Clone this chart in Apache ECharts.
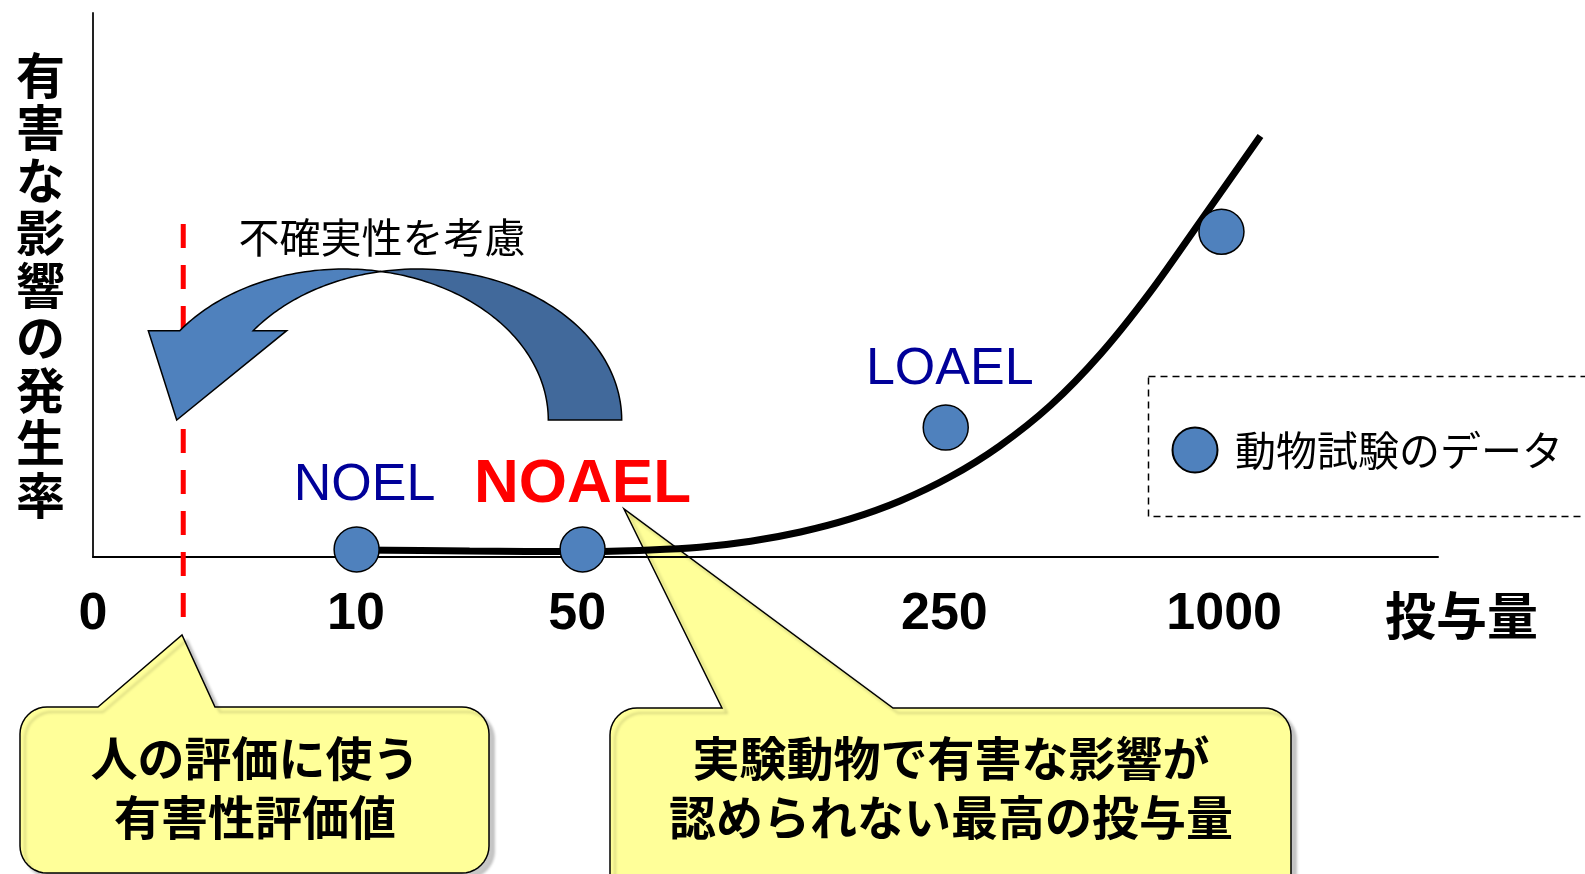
<!DOCTYPE html>
<html>
<head>
<meta charset="utf-8">
<script src="https://cdn.jsdelivr.net/npm/echarts@6/dist/echarts.min.js"></script>
<style>
  html, body { margin: 0; padding: 0; background: #ffffff; }
  #main { width: 1585px; height: 874px; }
</style>
</head>
<body>
<div id="main"></div>
<script>
// Schematic dose axis: tick text and where each tick sits along the axis
const doseTickLabels = ['0', '10', '50', '250', '1000'];
const doseTickPos = [0, 1.955, 3.60, 6.33, 8.41];

// Animal study results: position on the dose axis and incidence of adverse effects
const studyDosePos = [1.96, 3.64, 6.34, 8.39];
const studyEffect = [0.14, 0.14, 2.38, 5.98];
const studyTags = ['NOEL', 'NOAEL', 'LOAEL', ''];

// Dose-response curve
const curveX = [1.96, 2.80, 3.64, 4.14, 4.51, 4.89, 5.26, 5.63, 6.00, 6.37, 6.74, 7.12, 7.49, 7.86, 8.23, 8.68];
const curveY = [0.13, 0.11, 0.10, 0.13, 0.18, 0.29, 0.46, 0.70, 1.03, 1.47, 2.04, 2.79, 3.73, 4.87, 6.16, 7.74];

// Human reference value on the dose axis, and the vertical extent of its marker
const refDosePos = 0.671;
const refLineY = [6.12, -1.25];

const CJK = '"Noto Sans CJK JP", "Noto Sans CJK SC", sans-serif';
const LATIN = '"Liberation Sans", Arial, sans-serif';

const tagStyle = {
  NOEL:  { color: '#000099', fontSize: 52, fontWeight: 'normal', offset: [8, -64] },
  NOAEL: { color: '#FF0000', fontSize: 62, fontWeight: 'bold',   offset: [0, -64] },
  LOAEL: { color: '#000099', fontSize: 52, fontWeight: 'normal', offset: [4, -58] }
};

function tagLabel(tag) {
  if (!tag) return { show: false };
  const s = tagStyle[tag];
  return {
    show: true, position: 'inside', formatter: tag,
    color: s.color, fontSize: s.fontSize, fontWeight: s.fontWeight,
    fontFamily: LATIN, offset: s.offset
  };
}

// Curved "uncertainty" arrow: a band between two equal ellipses shifted sideways
function ellipsePts(cx, cy, rx, ry, t0, t1, n) {
  const pts = [];
  for (let i = 0; i <= n; i++) {
    const t = t0 + (t1 - t0) * i / n;
    pts.push([cx + rx * Math.cos(t), cy - ry * Math.sin(t)]);
  }
  return pts;
}
const arw = { cy: 420, rx: 204, ry: 151, cxA: 344.3, cxB: 417.7, baseY: 330.7, headL: 148.3, headR: 286.7, tip: [176.7, 420] };
const tBase = Math.PI - Math.asin((arw.cy - arw.baseY) / arw.ry);
const tCA = Math.acos(((arw.cxA + arw.cxB) / 2 - arw.cxA) / arw.rx);
const tCB = Math.PI - tCA;
const arrowFront = [[arw.headL, arw.baseY]]
  .concat(ellipsePts(arw.cxA, arw.cy, arw.rx, arw.ry, tBase, tCA, 48))
  .concat(ellipsePts(arw.cxB, arw.cy, arw.rx, arw.ry, tCB, tBase, 48))
  .concat([[arw.headR, arw.baseY], arw.tip]);
const arrowBack = ellipsePts(arw.cxA, arw.cy, arw.rx, arw.ry, tCA, 0, 60)
  .concat(ellipsePts(arw.cxB, arw.cy, arw.rx, arw.ry, 0, tCB, 60));

// Speech-bubble outline: rounded box with a pointer rising from its top edge
function cornerPts(cx, cy, r, a0, a1) {
  const pts = [];
  for (let i = 0; i <= 10; i++) {
    const a = a0 + (a1 - a0) * i / 10;
    pts.push([cx + r * Math.cos(a), cy + r * Math.sin(a)]);
  }
  return pts;
}
function calloutPts(x0, y0, x1, y1, r, baseL, baseR, tip) {
  const P = Math.PI;
  return [[baseL, y0], tip, [baseR, y0]]
    .concat(cornerPts(x1 - r, y0 + r, r, -P / 2, 0))
    .concat(cornerPts(x1 - r, y1 - r, r, 0, P / 2))
    .concat(cornerPts(x0 + r, y1 - r, r, P / 2, P))
    .concat(cornerPts(x0 + r, y0 + r, r, P, 1.5 * P));
}
const bubbleStyle = {
  fill: '#FFFF99', stroke: '#000', lineWidth: 1.5,
  shadowBlur: 3, shadowOffsetX: 5, shadowOffsetY: 5, shadowColor: 'rgba(0,0,0,0.22)'
};
function bubbleText(x, y, text) {
  return {
    type: 'text', x: x, y: y, z: 1,
    style: {
      text: text, fill: '#000', fontSize: 47, fontWeight: 'bold', fontFamily: CJK,
      lineHeight: 59, align: 'center', verticalAlign: 'middle'
    }
  };
}

const chart = echarts.init(document.getElementById('main'), null, { renderer: 'canvas' });

chart.setOption({
  animation: false,
  backgroundColor: '#ffffff',
  grid: { left: 93, right: 147, top: 13, bottom: 317, containLabel: false },
  legend: {
    data: ['動物試験のデータ'],
    left: 1171.5, top: 426.5, padding: 0,
    itemWidth: 70, itemHeight: 45,
    selectedMode: false,
    textStyle: { fontSize: 41, color: '#000', fontFamily: CJK }
  },
  xAxis: {
    type: 'value', min: 0, max: 10,
    axisLine: { show: true, lineStyle: { color: '#000', width: 2 } },
    axisTick: { show: false },
    splitLine: { show: false },
    axisLabel: {
      customValues: doseTickPos,
      formatter: function (v) {
        for (let i = 0; i < doseTickPos.length; i++) {
          if (Math.abs(doseTickPos[i] - v) < 1e-6) return doseTickLabels[i];
        }
        return '';
      },
      margin: 32, fontSize: 52, fontWeight: 'bold', color: '#000', fontFamily: LATIN
    },
    // empty first line pushes the name below the axis line
    name: '\n投与量', nameLocation: 'end', nameGap: -53,
    nameTextStyle: { fontSize: 51, fontWeight: 'bold', color: '#000', fontFamily: CJK, lineHeight: 118 }
  },
  yAxis: {
    type: 'value', min: 0, max: 10,
    axisLine: { show: true, lineStyle: { color: '#222', width: 2 } },
    axisTick: { show: false },
    axisLabel: { show: false },
    splitLine: { show: false },
    name: '有害な影響の発生率'.split('').join('\n'),
    nameLocation: 'middle', nameRotate: 0, nameGap: 52.5,
    nameTextStyle: {
      fontSize: 49, fontWeight: 'bold', color: '#000', fontFamily: CJK,
      lineHeight: 52.5, align: 'center', verticalAlign: 'middle'
    }
  },
  series: [
    {
      name: 'curve', type: 'line', z: 3, silent: true,
      data: curveX.map((x, i) => [x, curveY[i]]),
      symbol: 'none', smooth: 0.3,
      lineStyle: { color: '#000', width: 7 }
    },
    {
      name: 'reference', type: 'line', z: 2, silent: true, clip: false,
      data: [[refDosePos, refLineY[0]], [refDosePos, refLineY[1]]],
      symbol: 'none',
      lineStyle: { color: '#FF0000', width: 5, type: [24, 17] }
    },
    {
      name: '動物試験のデータ', type: 'scatter', z: 5, silent: true,
      symbol: 'circle', symbolSize: 45,
      itemStyle: { color: '#4F81BD', borderColor: '#000', borderWidth: 1.5, opacity: 1 },
      data: studyDosePos.map((x, i) => ({ value: [x, studyEffect[i]], label: tagLabel(studyTags[i]) }))
    }
  ],
  graphic: [
    // legend frame
    { type: 'rect', z: 1, shape: { x: 1148.5, y: 376.5, width: 500, height: 140 },
      style: { fill: 'none', stroke: '#000', lineWidth: 1.5, lineDash: [7, 5] } },
    // callouts
    { type: 'polygon', z: -1, shape: { points: calloutPts(20, 707, 489, 873, 27, 98, 215, [182, 635]) }, style: bubbleStyle },
    bubbleText(255, 788, '人の評価に使う\n有害性評価値'),
    { type: 'polygon', z: -1, shape: { points: calloutPts(610, 708, 1291, 905, 27, 722, 893, [624, 509]) }, style: bubbleStyle },
    bubbleText(951, 788, '実験動物で有害な影響が\n認められない最高の投与量'),
    // uncertainty arrow
    { type: 'polygon', z: 20, shape: { points: arrowBack },
      style: { fill: '#41699B', stroke: '#000', lineWidth: 1.5 } },
    { type: 'polygon', z: 21, shape: { points: arrowFront },
      style: { fill: '#4F81BD', stroke: '#000', lineWidth: 1.5 } },
    { type: 'text', x: 382, y: 237, z: 20,
      style: { text: '不確実性を考慮', fill: '#000', fontSize: 41, fontFamily: CJK,
               align: 'center', verticalAlign: 'middle' } }
  ]
});
</script>
</body>
</html>
